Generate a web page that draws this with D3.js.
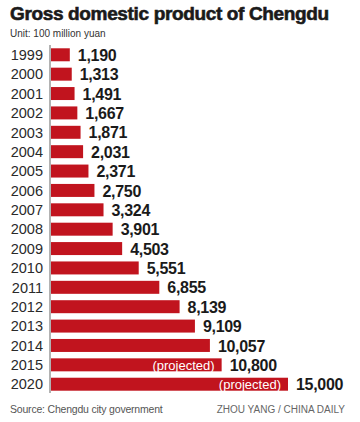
<!DOCTYPE html>
<html>
<head>
<meta charset="utf-8">
<script src="https://cdn.jsdelivr.net/npm/d3@7"></script>
<style>
	body { margin: 0; background: #fff; }
	svg { display: block; }
</style>
</head>
<body>
<div id="chart"></div>
<script>
// data
const years = ["1999", "2000", "2001", "2002", "2003", "2004", "2005", "2006", "2007",
	"2008", "2009", "2010", "2011", "2012", "2013", "2014", "2015", "2020"];
const gdp = [1190, 1313, 1491, 1667, 1871, 2031, 2371, 2750, 3324,
	3901, 4503, 5551, 6855, 8139, 9109, 10057, 10800, 15000];
const projectedYears = ["2015", "2020"];

const width = 360, height = 422;
const data = years.map((y, i) => ({ year: y, value: gdp[i] }));

const svg = d3.select("#chart")
	.append("svg")
	.attr("width", width)
	.attr("height", height);

// title + unit
svg.append("text")
	.attr("x", 10)
	.attr("y", 20)
	.style("font-family", "'Liberation Sans', Arial, sans-serif")
	.style("font-weight", "bold")
	.style("font-size", "19px")
	.style("letter-spacing", "-0.35px")
	.style("fill", "#1a1a1a")
	.style("stroke", "#1a1a1a")
	.style("stroke-width", "0.6px")
	.text("Gross domestic product of Chengdu");

svg.append("text")
	.attr("x", 10)
	.attr("y", 37)
	.style("font-family", "'Liberation Sans', Arial, sans-serif")
	.style("font-size", "10px")
	.style("fill", "#333")
	.text("Unit: 100 million yuan");

// scales
const x = d3.scaleLinear().domain([0, 15000]).range([51, 288]);
const y = d3.scaleBand().domain(years).range([45, 394]).paddingInner(0.33).paddingOuter(0.17);

const g = svg.append("g");

g.selectAll("rect.bar")
	.data(data)
	.join("rect")
	.attr("class", "bar")
	.attr("x", x(0))
	.attr("y", d => y(d.year))
	.attr("width", d => x(d.value) - x(0))
	.attr("height", y.bandwidth())
	.attr("fill", "#c1141e");

// axis line on the left of the bars
svg.append("line")
	.attr("x1", 50).attr("x2", 50)
	.attr("y1", 45).attr("y2", 393)
	.attr("stroke", "#999")
	.attr("stroke-width", 1.5);

// year labels
g.selectAll("text.year")
	.data(data)
	.join("text")
	.attr("class", "year")
	.attr("x", 43)
	.attr("y", d => y(d.year) + y.bandwidth() / 2)
	.attr("dy", "0.36em")
	.attr("text-anchor", "end")
	.style("font-family", "'Liberation Sans', Arial, sans-serif")
	.style("font-size", "14.5px")
	.style("fill", "#2a2a2a")
	.text(d => d.year);

// value labels
g.selectAll("text.value")
	.data(data)
	.join("text")
	.attr("class", "value")
	.attr("x", d => x(d.value) + 8)
	.attr("y", d => y(d.year) + y.bandwidth() / 2)
	.attr("dy", "0.38em")
	.style("font-family", "'Liberation Sans', Arial, sans-serif")
	.style("font-weight", "bold")
	.style("font-size", "16px")
	.style("letter-spacing", "-0.3px")
	.style("fill", "#1a1a1a")
	.text(d => d3.format(",")(d.value));

// (projected) inside the last bars
g.selectAll("text.proj")
	.data(data.filter(d => projectedYears.includes(d.year)))
	.join("text")
	.attr("class", "proj")
	.attr("x", d => x(d.value) - 7)
	.attr("y", d => y(d.year) + y.bandwidth() / 2)
	.attr("dy", "0.36em")
	.attr("text-anchor", "end")
	.style("font-family", "'Liberation Sans', Arial, sans-serif")
	.style("font-size", "13px")
	.style("fill", "#fff")
	.text("(projected)");

// footer
svg.append("text")
	.attr("x", 10)
	.attr("y", 413)
	.style("font-family", "'Liberation Sans', Arial, sans-serif")
	.style("font-size", "10.5px")
	.style("letter-spacing", "-0.2px")
	.style("fill", "#555")
	.text("Source: Chengdu city government");

svg.append("text")
	.attr("x", 345)
	.attr("y", 413)
	.attr("text-anchor", "end")
	.style("font-family", "'Liberation Sans', Arial, sans-serif")
	.style("font-size", "10px")
	.style("fill", "#666")
	.text("ZHOU YANG / CHINA DAILY");
</script>
</body>
</html>
